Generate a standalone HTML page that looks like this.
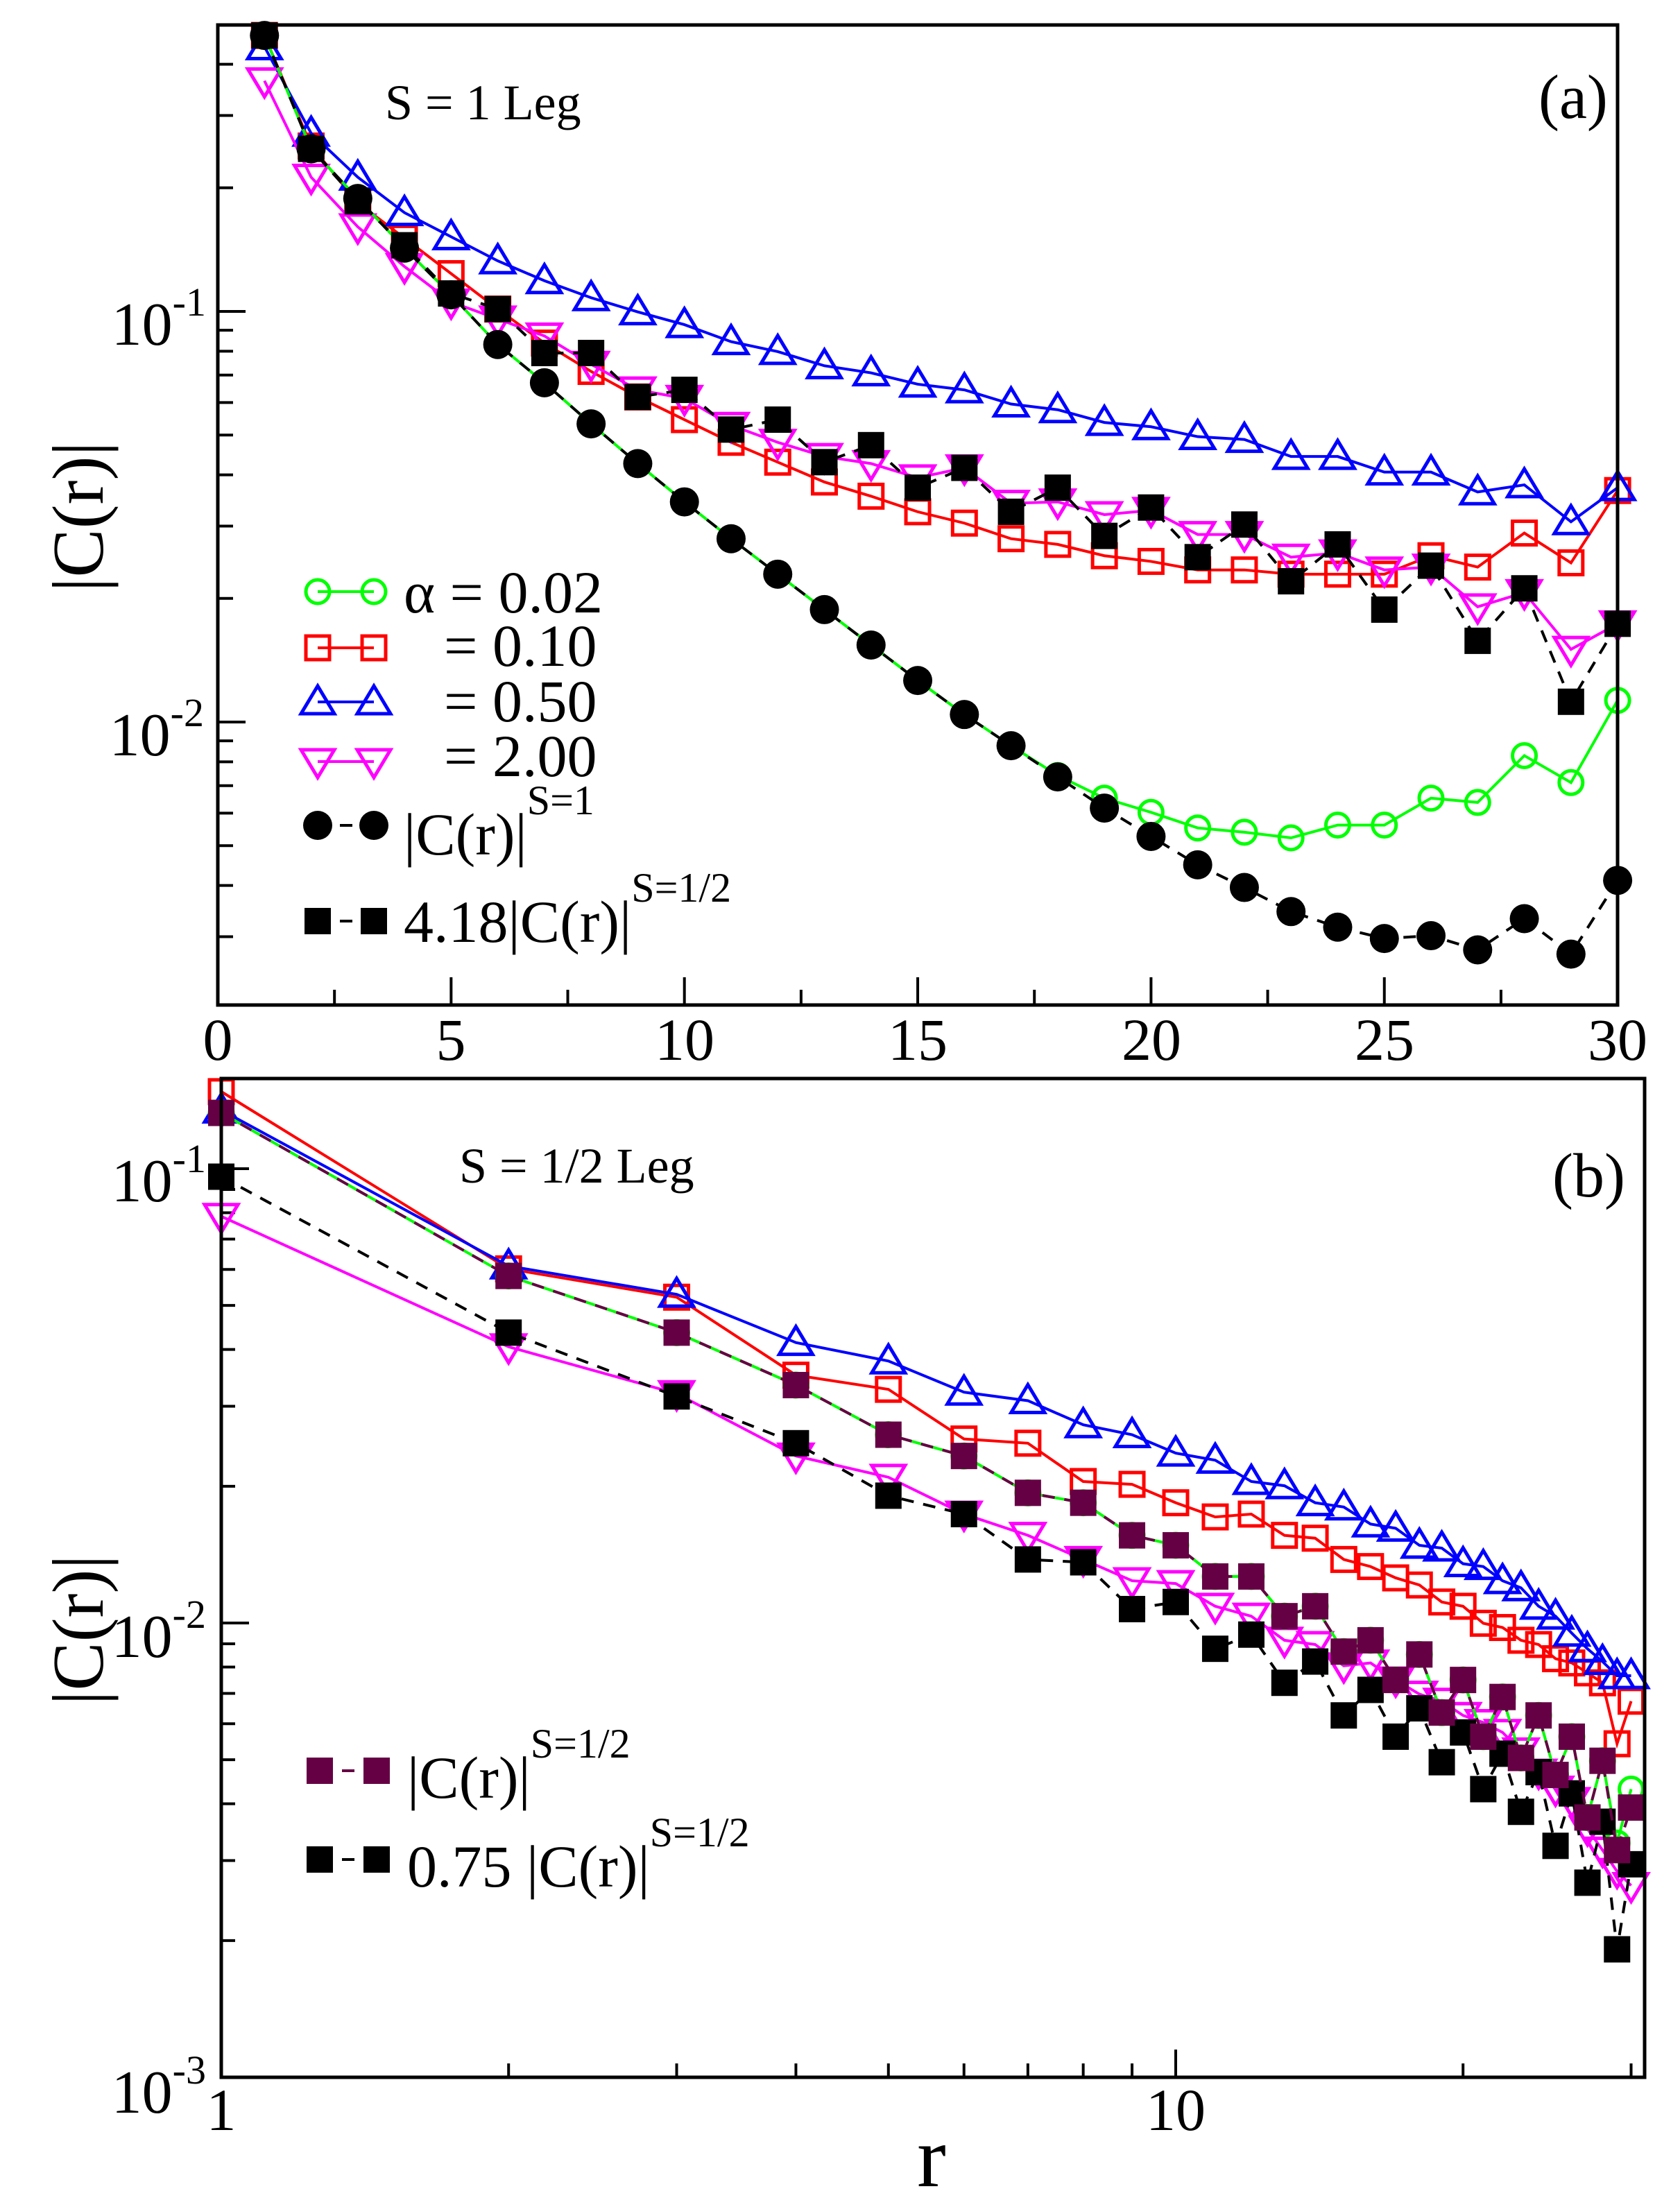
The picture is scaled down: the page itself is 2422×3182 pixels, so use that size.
<!DOCTYPE html>
<html><head><meta charset="utf-8"><style>
html,body{margin:0;padding:0;background:#fff}
svg{display:block}
svg text{font-family:"Liberation Serif","Noto Serif CJK SC","DejaVu Serif",serif !important}
</style></head><body>
<svg id="s" width="2422" height="3182" viewBox="0 0 2422 3182" xmlns="http://www.w3.org/2000/svg">
<rect width="2422" height="3182" fill="#fff"/>
<g id="g"></g>
<rect x="314" y="36" width="2018" height="1413" fill="none" stroke="#000" stroke-width="5"/>
<rect x="319" y="1555" width="2052" height="1440" fill="none" stroke="#000" stroke-width="5"/>
<g font-size="86" text-anchor="middle">
<text x="314" y="1528">0</text><text x="650" y="1528">5</text><text x="987" y="1528">10</text>
<text x="1323" y="1528">15</text><text x="1660" y="1528">20</text><text x="1996" y="1528">25</text><text x="2332" y="1528">30</text>
<text x="319" y="3071">1</text><text x="1695" y="3071">10</text>
</g>
<g font-size="88" text-anchor="end">
<text x="297" y="497">10<tspan font-size="58" dy="-42">-1</tspan></text>
<text x="294" y="1089">10<tspan font-size="58" dy="-42">-2</tspan></text>
<text x="297" y="1732">10<tspan font-size="58" dy="-42">-1</tspan></text>
<text x="297" y="2389">10<tspan font-size="58" dy="-42">-2</tspan></text>
<text x="297" y="3046">10<tspan font-size="58" dy="-42">-3</tspan></text>
</g>
<g>
<text font-size="105" transform="translate(148,745) rotate(-90)" text-anchor="middle">|C(r)|</text>
<text font-size="105" transform="translate(148,2350) rotate(-90)" text-anchor="middle">|C(r)|</text>
<text font-size="125" x="1343" y="3152" text-anchor="middle">r</text>
<text font-size="72" x="555" y="172">S = 1 Leg</text>
<text font-size="90" x="2218" y="170">(a)</text>
<text font-size="72" x="662" y="1705">S = 1/2 Leg</text>
<text font-size="90" x="2238" y="1725">(b)</text>
<g font-size="86">
<text x="582" y="883">α = 0.02</text>
<text x="640" y="960">= 0.10</text>
<text x="640" y="1040">= 0.50</text>
<text x="640" y="1119">= 2.00</text>
<text x="582" y="1232">|C(r)|<tspan font-size="60" dy="-58">S=1</tspan></text>
<text x="582" y="1358">4.18|C(r)|<tspan font-size="60" dy="-58">S=1/2</tspan></text>
<text x="587" y="2592" font-size="86">|C(r)|<tspan font-size="60" dy="-58">S=1/2</tspan></text>
<text x="587" y="2720" font-size="86">0.75 |C(r)|<tspan font-size="60" dy="-58">S=1/2</tspan></text>
</g>
</g>
</svg>
<script>
const NS="http://www.w3.org/2000/svg",G=document.getElementById('g');
function el(t,a){const e=document.createElementNS(NS,t);for(const k in a)e.setAttribute(k,a[k]);G.appendChild(e);return e;}
const K=2.044;
for(let i=0;i<=12;i++){const x=314+i*2.5*67.27;const L=i%2?22:40;el('line',{x1:x,y1:1449,x2:x,y2:1449-L,stroke:'#000','stroke-width':4});}
function ylogA(v){return 449-(Math.log10(v)+1)*592;}
for(let d=-3;d<=-1;d++)for(let m=1;m<10;m++){const y=ylogA(m*Math.pow(10,d));if(y<40||y>1446)continue;el('line',{x1:314,y1:y,x2:314+(m==1?40:22),y2:y,stroke:'#000','stroke-width':4});}
function xB(r){return 319+Math.log10(r)*1376;}
function ylogB(v){return 1685-(Math.log10(v)+1)*655;}
for(const r of [2,3,4,5,6,7,8,9,10,20,30]){const x=xB(r);el('line',{x1:x,y1:2995,x2:x,y2:2995-(r==10?40:20),stroke:'#000','stroke-width':4});}
for(let d=-3;d<=-1;d++)for(let m=1;m<10;m++){const y=ylogB(m*Math.pow(10,d));if(y<1558||y>2993)continue;el('line',{x1:319,y1:y,x2:319+(m==1?40:20),y2:y,stroke:'#000','stroke-width':4});}
function mk(type,x,y,c){
 if(type=='oc')el('circle',{cx:x,cy:y,r:17,fill:'none',stroke:c,'stroke-width':5});
 if(type=='fc')el('circle',{cx:x,cy:y,r:21,fill:c});
 if(type=='os')el('rect',{x:x-17,y:y-17,width:34,height:34,fill:'none',stroke:c,'stroke-width':5});
 if(type=='fs')el('rect',{x:x-19,y:y-19,width:38,height:38,fill:c});
 if(type=='ut')el('polygon',{points:`${x},${y-23} ${x-24},${y+17} ${x+24},${y+17}`,fill:'none',stroke:c,'stroke-width':5});
 if(type=='dt')el('polygon',{points:`${x},${y+23} ${x-24},${y-17} ${x+24},${y-17}`,fill:'none',stroke:c,'stroke-width':5});
}
function series(xs,ys,c,type,dash){
 const pts=xs.map((x,i)=>x+','+ys[i]).join(' ');
 const a={points:pts,fill:'none',stroke:c,'stroke-width':4};if(dash)a['stroke-dasharray']='18,14';
 el('polyline',a);
 xs.forEach((x,i)=>mk(type,x,ys[i],c));
}
const xa=[];for(let r=1;r<=30;r++)xa.push(314+r*67.27);
const A={
 red:[25,103,143,168,193,218,242,262,280,296,312,326,340,350,361,369,380,384,392,396,402,402,405,405,405,392,400,376,397,346],
 blue:[33,94,125,150,167,184,198,210,220,229,241,248,258,263,271,275,285,289,298,301,308,310,322,322,333,333,347,342,368,344],
 mag:[57,125,160,188,213,225,237,257,275,281,300,312,322,327,337,330,355,354,363,360,377,377,393,390,402,400,428,418,458,440],
 green:[25,105,140,175,208,243,270,299,327,354,380,405,430,455,480,504,526,547,563,573,584,587,591,582,582,563,566,533,552,494],
 bc:[25,105,140,175,208,243,270,299,327,354,380,405,430,455,480,504,526,548,570,590,610,626,643,654,662,660,670,648,673,621],
 bs:[25,105,142,173,207,218,249,249,280,275,303,296,326,314,344,330,361,344,378,358,393,370,410,384,430,399,452,415,495,440]
};
const sc=a=>a.map(v=>v*K);
series(xa,sc(A.red),'#ff0000','os');
series(xa,sc(A.blue),'#0000ff','ut');
series(xa,sc(A.mag),'#ff00ff','dt');
series(xa,sc(A.green),'#00ff00','oc');
series(xa,sc(A.bs),'#000','fs',true);
series(xa,sc(A.bc),'#000','fc',true);
const xb=[];for(let r=1;r<=30;r++)xb.push(xB(r));
const B={
 red:[770,895,915,970,980,1015,1018,1045,1047,1060,1070,1068,1083,1085,1100,1105,1113,1118,1130,1133,1145,1148,1157,1160,1170,1173,1180,1187,1230,1200],
 blue:[783,893,913,947,960,982,988,1005,1012,1025,1030,1045,1048,1060,1063,1075,1078,1090,1092,1103,1105,1115,1120,1133,1140,1152,1163,1172,1182,1182],
 green:[785,900,940,977,1012,1027,1053,1060,1083,1090,1112,1112,1140,1133,1165,1157,1185,1167,1208,1185,1225,1197,1240,1210,1252,1225,1282,1242,1300,1262],
 pur:[785,900,940,977,1012,1027,1053,1060,1083,1090,1112,1112,1140,1133,1165,1157,1185,1167,1208,1185,1225,1197,1240,1210,1252,1225,1282,1242,1305,1275],
 mag:[858,950,983,1027,1042,1068,1083,1100,1115,1117,1133,1140,1157,1160,1175,1173,1185,1195,1200,1210,1215,1222,1235,1250,1262,1270,1290,1305,1320,1330],
 blk:[830,940,985,1018,1055,1068,1100,1102,1135,1130,1163,1153,1187,1172,1210,1192,1225,1205,1243,1222,1262,1237,1278,1250,1302,1265,1328,1285,1375,1315]
};
series(xb,sc(B.red),'#ff0000','os');
series(xb,sc(B.blue),'#0000ff','ut');
series(xb,sc(B.mag),'#ff00ff','dt');
series(xb,sc(B.green),'#00ff00','oc');
series(xb,sc(B.blk),'#000','fs',true);
series(xb,sc(B.pur),'#660044','fs',true);
function leg(y,c,t,d){const a={x1:458,y1:y,x2:539,y2:y,stroke:c,'stroke-width':4};if(d)a['stroke-dasharray']='18,14';el('line',a);mk(t,458,y,c);mk(t,539,y,c);}
leg(853,'#00ff00','oc');leg(934,'#ff0000','os');leg(1012,'#0000ff','ut');leg(1098,'#ff00ff','dt');
leg(1190,'#000','fc',true);leg(1328,'#000','fs',true);
function leg2(y,c){const a={x1:461,y1:y,x2:543,y2:y,stroke:c,'stroke-width':4,'stroke-dasharray':'18,14'};el('line',a);mk('fs',461,y,c);mk('fs',543,y,c);}
leg2(2553,'#660044');leg2(2681,'#000');
</script>
</body></html>
